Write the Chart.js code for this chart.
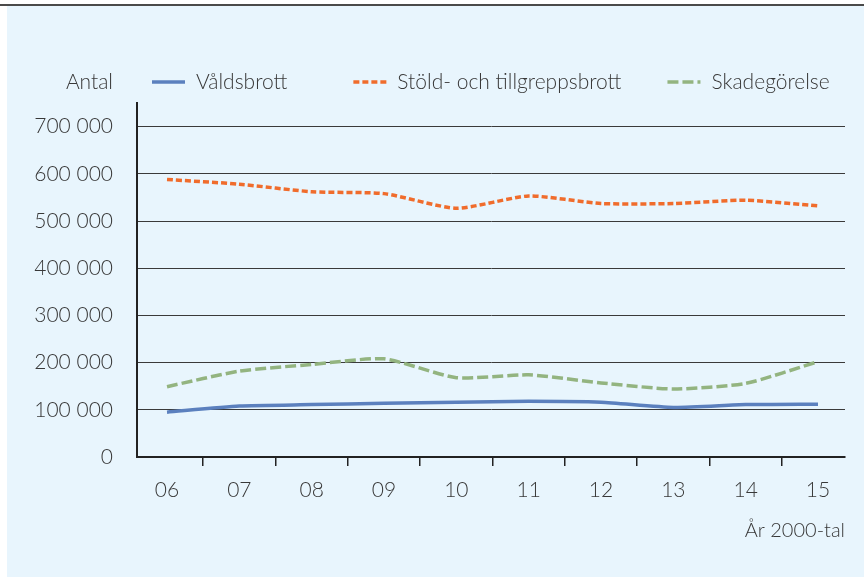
<!DOCTYPE html>
<html>
  <head>
    <meta charset="utf-8">
    <title>Anmälda brott</title>
    <style>
      html, body{ margin: 0; padding: 0; background-color: #ffffff; font-family: Lato, sans-serif; }
      .rule{ position: absolute; left: 0; top: 4px; width: 864px; height: 2px; background-color: #4a4a4a; }
      .panel{ position: absolute; left: 7px; top: 6px; width: 857px; height: 571px; background-color: #e8f5fd; }
      canvas{ position: absolute; left: 0; top: 0; }
    </style>
    <script src="https://cdn.jsdelivr.net/npm/chart.js"></script>
  </head>
  <body>
    <div class="rule"></div>
    <div class="panel"></div>
    <canvas id="myChart" width="864" height="577"></canvas>

    <script>
      // Data
      const years = ['06', '07', '08', '09', '10', '11', '12', '13', '14', '15'];
      const seriesNames = ['Våldsbrott', 'Stöld- och tillgreppsbrott', 'Skadegörelse'];
      const valdsbrott = [95000, 108000, 111000, 114000, 116000, 118000, 116000, 105000, 111000, 112000];
      const stold = [588000, 578000, 562000, 558000, 527000, 553000, 537000, 537000, 544000, 532000];
      const skadegorelse = [149000, 182000, 196000, 208000, 168000, 174000, 157000, 144000, 156000, 202000];
      const yTicks = [0, 100000, 200000, 300000, 400000, 500000, 600000, 700000];
      const yTitle = 'Antal';
      const xTitle = 'År 2000-tal';

      const textColor = '#383838';
      const tickFont = { family: 'Lato', weight: '300', size: 21 };

      const toPoints = (arr) => arr.map((v, i) => ({ x: i, y: v }));

      // legend row drawn on the canvas (item gaps in the original are uneven, Chart.js legend can't do that)
      const legendGaps = [66, 46];
      const topLegend = {
        id: 'topLegend',
        afterDraw(chart) {
          const ctx = chart.ctx;
          const y = 82;
          ctx.save();
          ctx.font = '300 21px Lato';
          ctx.textBaseline = 'middle';
          ctx.fillStyle = textColor;
          ctx.textAlign = 'right';
          ctx.fillText(yTitle, chart.chartArea.left - 24, y);
          ctx.textAlign = 'left';
          let x = 152;
          chart.data.datasets.forEach((ds, i) => {
            ctx.beginPath();
            ctx.setLineDash(ds.borderDash || []);
            ctx.strokeStyle = ds.borderColor;
            ctx.lineWidth = ds.borderWidth;
            ctx.moveTo(x, y);
            ctx.lineTo(x + 33, y);
            ctx.stroke();
            ctx.setLineDash([]);
            ctx.fillText(ds.label, x + 44, y);
            x += 44 + ctx.measureText(ds.label).width + (legendGaps[i] || 0);
          });
          ctx.restore();
        }
      };

      const ctx = document.getElementById('myChart').getContext('2d');
      const myChart = new Chart(ctx, {
        type: 'line',
        data: {
          datasets: [
            {
              label: seriesNames[0],
              data: toPoints(valdsbrott),
              borderColor: '#5b80be',
              borderWidth: 3.5
            },
            {
              label: seriesNames[1],
              data: toPoints(stold),
              borderColor: '#f06c2c',
              borderWidth: 3.5,
              borderDash: [6, 3]
            },
            {
              label: seriesNames[2],
              data: toPoints(skadegorelse),
              borderColor: '#93b480',
              borderWidth: 3.5,
              borderDash: [11, 4]
            }
          ]
        },
        options: {
          responsive: false,
          animation: false,
          tension: 0.2,
          pointRadius: 0,
          layout: { padding: { left: 0, right: 19, top: 103, bottom: 0 } },
          scales: {
            x: {
              type: 'linear',
              min: -0.415,
              max: 9.373,
              afterBuildTicks(scale) {
                const t = [];
                for (let i = 0; i < years.length; i++) {
                  t.push({ value: i });
                  if (i < years.length - 1) t.push({ value: i + 0.5 });
                }
                scale.ticks = t;
              },
              afterFit(scale) { scale.height = 120; },
              ticks: {
                autoSkip: false,
                maxRotation: 0,
                padding: 12,
                color: textColor,
                font: tickFont,
                callback: (v) => Number.isInteger(v) ? years[v] : ''
              },
              grid: {
                drawOnChartArea: false,
                tickLength: 9,
                color: (c) => (c.tick && !Number.isInteger(c.tick.value)) ? '#222222' : 'rgba(0,0,0,0)',
                lineWidth: 1.5
              },
              border: { color: '#222222', width: 2 },
              title: {
                display: true,
                text: xTitle,
                align: 'end',
                color: textColor,
                font: { family: 'Lato', weight: '300', size: 20 },
                padding: { top: 0, bottom: 34 }
              }
            },
            y: {
              min: 0,
              max: 750000,
              afterBuildTicks(scale) {
                scale.ticks = yTicks.map(v => ({ value: v })).concat([{ value: 750000 }]);
              },
              afterFit(scale) { scale.width = 137; },
              ticks: {
                autoSkip: false,
                padding: 24,
                color: textColor,
                font: tickFont,
                callback: (v) => yTicks.includes(v) ? String(v).replace(/\B(?=(\d{3})+(?!\d))/g, ' ') : ''
              },
              grid: {
                drawTicks: false,
                color: (c) => (c.tick && c.tick.value > 0 && yTicks.includes(c.tick.value)) ? '#3a3a3a' : 'rgba(0,0,0,0)',
                lineWidth: 1
              },
              border: { color: '#222222', width: 2 }
            }
          },
          plugins: {
            legend: { display: false },
            tooltip: { enabled: false }
          }
        },
        plugins: [topLegend]
      });
    </script>
  </body>
</html>
